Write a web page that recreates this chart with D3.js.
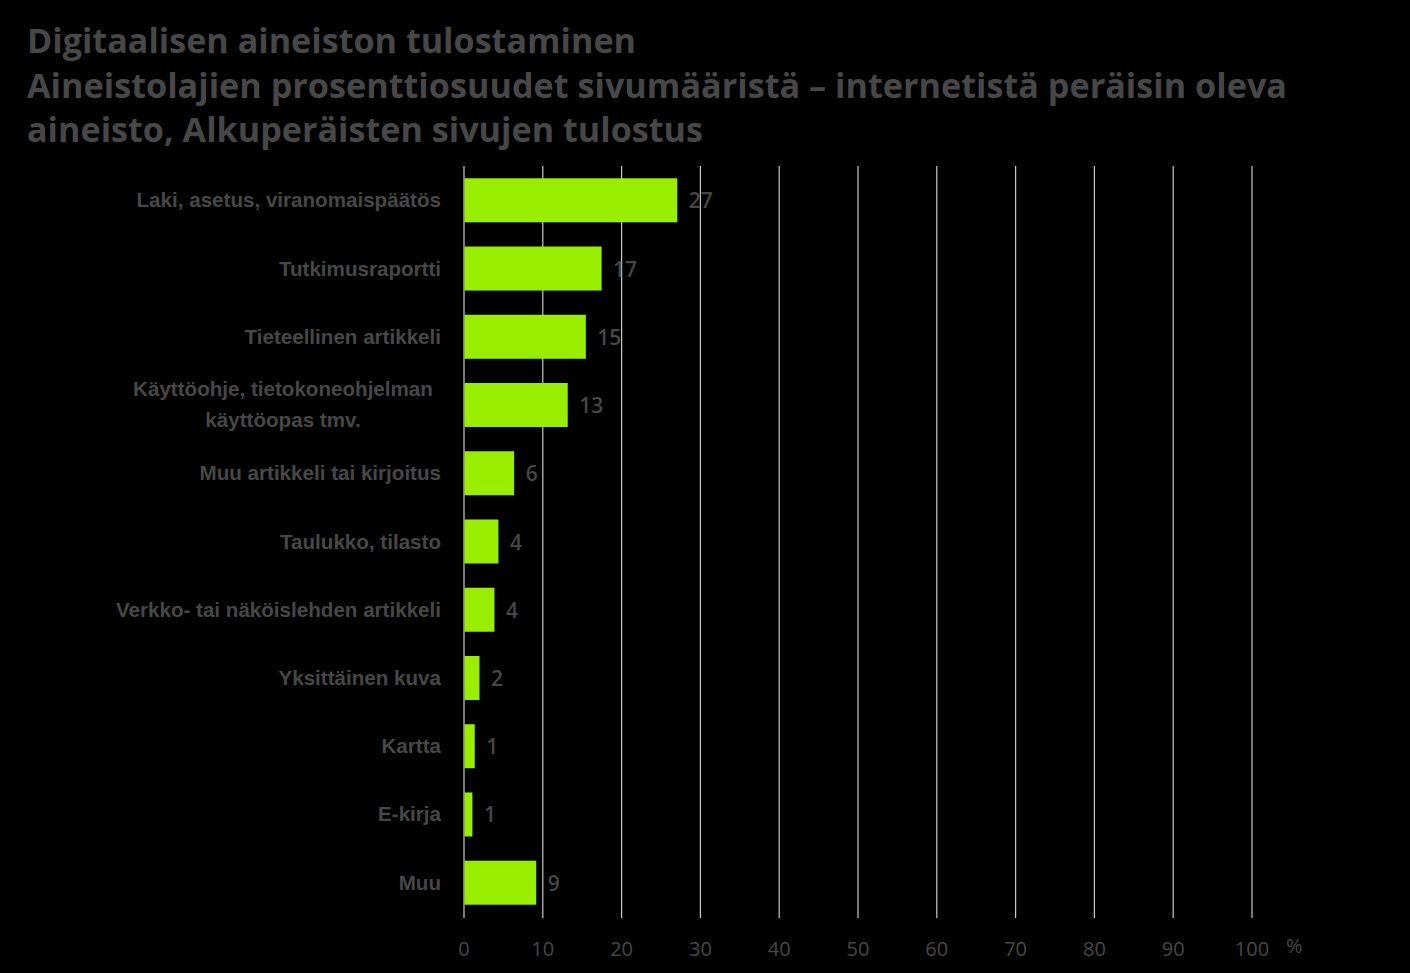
<!DOCTYPE html>
<html><head><meta charset="utf-8">
<script src="https://cdn.jsdelivr.net/npm/d3@7"></script>
<style>
html,body{margin:0;padding:0;background:#000;}
svg{display:block;}
</style></head>
<body>
<script>
const titleLines = [
  "Digitaalisen aineiston tulostaminen",
  "Aineistolajien prosenttiosuudet sivumääristä – internetistä peräisin oleva",
  "aineisto, Alkuperäisten sivujen tulostus"
];
const categories = [
  "Laki, asetus, viranomaispäätös",
  "Tutkimusraportti",
  "Tieteellinen artikkeli",
  "Käyttöohje, tietokoneohjelman\nkäyttöopas tmv.",
  "Muu artikkeli tai kirjoitus",
  "Taulukko, tilasto",
  "Verkko- tai näköislehden artikkeli",
  "Yksittäinen kuva",
  "Kartta",
  "E-kirja",
  "Muu"
];
const values = [27.0, 17.4, 15.4, 13.1, 6.3, 4.3, 3.8, 1.9, 1.3, 1.0, 9.1];
const xTicks = [0, 10, 20, 30, 40, 50, 60, 70, 80, 90, 100];
const unitLabel = "%";

(function () {
const W = 1410, H = 973;
const pLeft = 464, pRight = 1252, pTop = 166, pBottom = 917;
const textColor = "#474747";

const svg = d3.select("body").append("svg").attr("width", W).attr("height", H);
svg.append("rect").attr("width", W).attr("height", H).attr("fill", "#000");

// title
const titleWidths = [609, 1260, 676];
const titleBase = [53, 98, 142];
titleLines.forEach((t, i) => {
  svg.append("text")
    .attr("x", 27).attr("y", titleBase[i])
    .attr("font-family", "'Open Sans', 'Liberation Sans', sans-serif")
    .attr("font-weight", "bold").attr("font-size", 34)
    .attr("fill", textColor)
    .attr("textLength", titleWidths[i]).attr("lengthAdjust", "spacingAndGlyphs")
    .text(t);
});

const x = d3.scaleLinear().domain([0, 100]).range([pLeft, pRight]);
const y = d3.scaleBand().domain(categories).range([pTop, pBottom]).paddingInner(0.355).paddingOuter(0.18);

// gridlines
svg.append("g").selectAll("line").data(xTicks).join("line")
  .attr("x1", d => x(d)).attr("x2", d => x(d))
  .attr("y1", pTop).attr("y2", pBottom + 1)
  .attr("stroke", "#c8c8c8").attr("stroke-width", 1.2);

// bars
svg.append("g").selectAll("rect").data(values).join("rect")
  .attr("x", x(0) + 0.5)
  .attr("y", (d, i) => y(categories[i]))
  .attr("width", d => x(d) - x(0))
  .attr("height", y.bandwidth())
  .attr("fill", "#99ee00");

// value labels
svg.append("g").selectAll("text").data(values).join("text")
  .attr("x", d => x(d) + 12)
  .attr("y", (d, i) => y(categories[i]) + y.bandwidth() / 2 + 8)
  .attr("font-family", "'Open Sans', 'Liberation Sans', sans-serif")
  .attr("font-size", 21).attr("font-weight", 600)
  .attr("fill", textColor)
  .text(d => Math.round(d));

// category labels
const catG = svg.append("g");
categories.forEach((c, i) => {
  const lines = c.split("\n");
  const cy = y(c) + y.bandwidth() / 2;
  const t = catG.append("text")
    .attr("font-family", "'Liberation Sans', Arial, sans-serif")
    .attr("font-weight", "bold").attr("font-size", 20.6)
    .attr("fill", textColor);
  if (lines.length === 1) {
    t.attr("x", 441).attr("y", cy + 7).attr("text-anchor", "end").text(c);
  } else {
    t.attr("text-anchor", "middle");
    lines.forEach((l, j) => {
      t.append("tspan").attr("x", 283).attr("y", cy - 9 + j * 31).text(l);
    });
  }
});

// x axis tick labels
svg.append("g").selectAll("text").data(xTicks).join("text")
  .attr("x", d => x(d)).attr("y", 956)
  .attr("text-anchor", "middle")
  .attr("font-family", "'Open Sans', 'Liberation Sans', sans-serif")
  .attr("font-size", 20)
  .attr("fill", textColor)
  .text(d => d);
svg.append("text").attr("x", 1286).attr("y", 953)
  .attr("font-family", "'Open Sans', 'Liberation Sans', sans-serif")
  .attr("font-size", 20).attr("fill", textColor).text(unitLabel);
})();
</script>
</body></html>
